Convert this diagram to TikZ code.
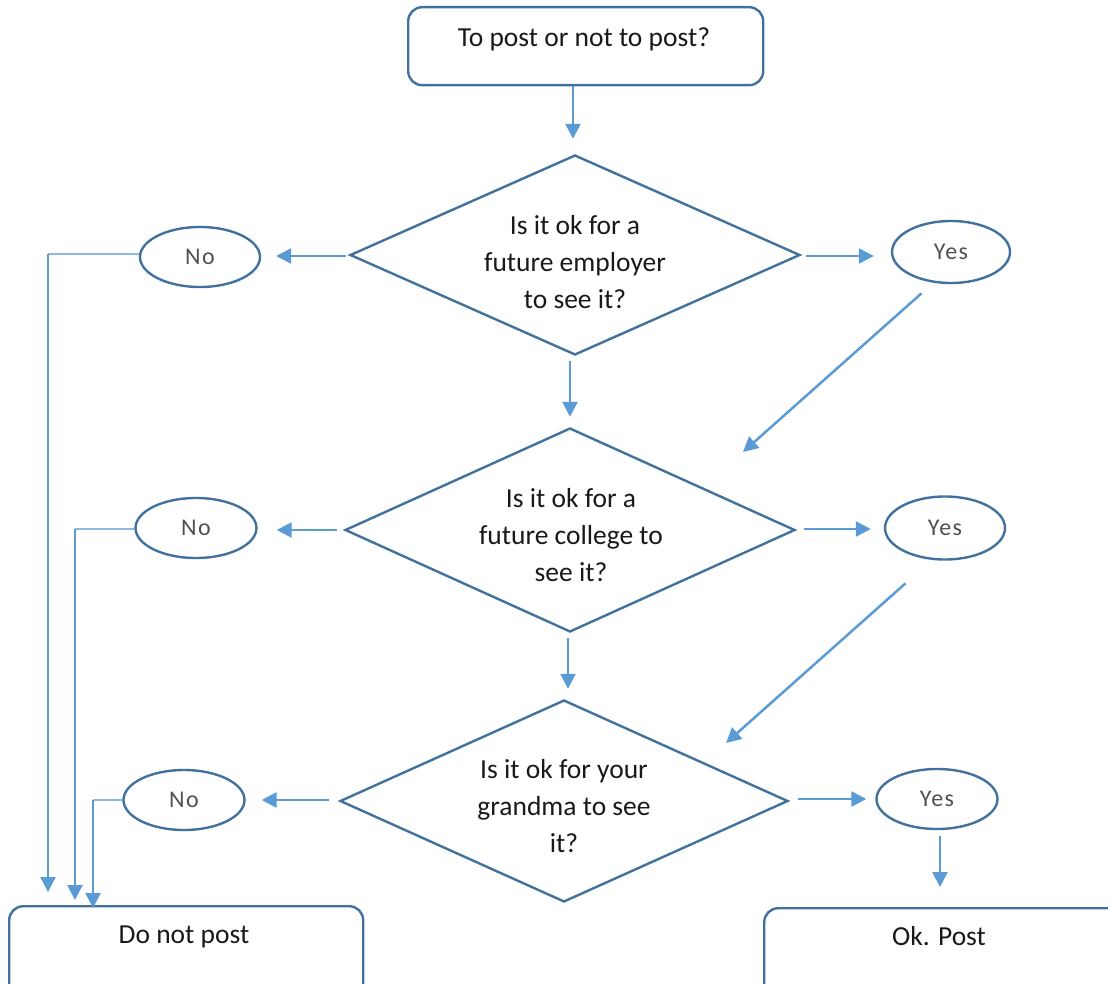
\documentclass[tikz,border=0pt]{standalone}
\usepackage{fontspec}
\setmainfont{Carlito}
\usetikzlibrary{shapes.geometric,arrows.meta,calc}
\definecolor{edgeblue}{HTML}{41719C}
\definecolor{arrowblue}{HTML}{5B9BD5}
\definecolor{paleblue}{HTML}{8DB8E2}
\definecolor{answergray}{HTML}{505050}
\tikzset{
  box/.style={draw=edgeblue, line width=2.4pt, rounded corners=14pt, anchor=north west, inner sep=0pt},
  question/.style={draw=edgeblue, line width=2.4pt, shape=diamond, inner sep=0pt},
  answer/.style={draw=edgeblue, line width=2.4pt, ellipse, inner sep=0pt,
    font=\fontsize{24}{28}\selectfont\addfontfeatures{LetterSpace=6}, text=answergray},
  label text/.style={font=\fontsize{27.5}{37}\selectfont, text=black!90, align=center},
  flow/.style={draw=arrowblue, line width=2.5pt, -{Triangle[length=15pt,width=15pt]}},
  feed/.style={draw=paleblue, line width=2.5pt},
}
\begin{document}
\begin{tikzpicture}[x=1pt,y=-1pt]
\path[use as bounding box] (0,0) rectangle (1108,984);
\clip (0,0) rectangle (1108,984);

% start and end boxes
\node[box, minimum width=355pt, minimum height=78pt] (start) at (407,6) {};
\node[label text, anchor=base] (starttxt) at (584,47) {To post or not to post?};
\node[box, minimum width=354pt, minimum height=110pt] (stop) at (8,905) {};
\node[label text, anchor=base] (stoptxt) at (184,943) {Do not post};
\node[box, minimum width=370pt, minimum height=110pt] (post) at (763,907) {};
\node[label text, anchor=base] (posttxt) at (939,945) {Ok. Post};

% decision diamonds
\node[question, minimum width=450pt, minimum height=200pt] (q1) at (575,255) {};
\node[label text] (q1txt) at (575,262) {Is it ok for a\\future employer\\to see it?};
\node[question, minimum width=450pt, minimum height=204pt] (q2) at (570,530) {};
\node[label text] (q2txt) at (571,535) {Is it ok for a\\future college to\\see it?};
\node[question, minimum width=448pt, minimum height=202pt] (q3) at (564,801) {};
\node[label text] (q3txt) at (564,806) {Is it ok for your\\grandma to see\\it?};

% answers
\node[answer, minimum width=120pt, minimum height=60pt] (no1) at (200,257) {No};
\node[answer, minimum width=118pt, minimum height=62pt] (yes1) at (951,252) {Yes};
\node[answer, minimum width=121pt, minimum height=60pt] (no2) at (196,528) {No};
\node[answer, minimum width=120pt, minimum height=63pt] (yes2) at (945,528) {Yes};
\node[answer, minimum width=121pt, minimum height=60pt] (no3) at (184,800) {No};
\node[answer, minimum width=121pt, minimum height=60pt] (yes3) at (937,799) {Yes};

% main flow
\draw[flow, shorten >=15pt] (start.south -| 573,0) -- (q1.north -| 573,0);
\draw[flow, shorten <=5pt, shorten >=10pt] (q1.south -| 570,0) -- (q2.north -| 570,0);
\draw[flow, shorten <=5pt, shorten >=10pt] (q2.south -| 568,0) -- (q3.north -| 568,0);

% sideways branches
\draw[flow, shorten <=3pt, shorten >=15pt] (q1.west |- 0,256) -- (no1.east |- 0,256);
\draw[flow, shorten <=5pt, shorten >=17pt] (q1.east |- 0,256) -- (yes1.west |- 0,256);
\draw[flow, shorten <=7pt, shorten >=19pt] (q2.west |- 0,530) -- (no2.east |- 0,530);
\draw[flow, shorten <=8pt, shorten >=13pt] (q2.east |- 0,529) -- (yes2.west |- 0,529);
\draw[flow, shorten <=10pt, shorten >=16pt] (q3.west |- 0,800) -- (no3.east |- 0,800);
\draw[flow, shorten <=9pt, shorten >=9pt] (q3.east |- 0,799) -- (yes3.west |- 0,799);

% yes answers lead to the next question
\coordinate (y1end) at (743,452);
\coordinate (y2end) at (726,743);
\draw[flow, shorten <=2pt] (923,292) -- (y1end);
\draw[flow, shorten <=2pt] (907,582) -- (y2end);
\draw[flow, shorten <=6pt, shorten >=20pt] (yes3.south -| 940,0) -- (post.north -| 940,0);

% no answers lead to "Do not post"
\draw[feed] (no1.west |- 0,254) -- (48,254);
\draw[flow, shorten >=13pt] (48,254) -- (stop.north -| 48,0);
\draw[feed] (no2.west |- 0,529) -- (75,529);
\draw[flow, shorten >=5pt] (75,529) -- (stop.north -| 75,0);
\draw[feed] (no3.west |- 0,800) -- (93,800);
\draw[flow, shorten >=-3pt] (93,800) -- (stop.north -| 93,0);
\end{tikzpicture}
\end{document}
